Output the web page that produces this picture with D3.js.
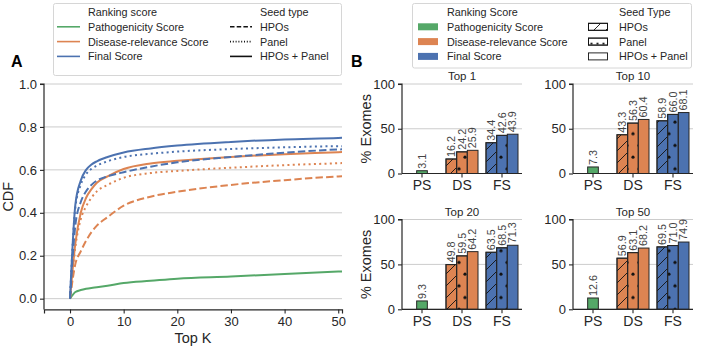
<!DOCTYPE html>
<html><head><meta charset="utf-8">
<script src="https://cdn.jsdelivr.net/npm/d3@7"></script>
<style>body{margin:0;background:#fff}svg{display:block;font-family:"Liberation Sans",Arial,sans-serif}</style>
</head><body><svg id="c" width="704" height="348"></svg>
<script>
// ---------- data ----------
const rankScores = ["Pathogenicity Score", "Disease-relevance Score", "Final Score"];
const seedTypes = ["HPOs", "Panel", "HPOs + Panel"];
const colors = ["#55a868", "#dd8452", "#4c72b0"];
// Panel A: CDF vs Top K
const kValues = [0, 1, 2, 3, 4, 5, 7, 10, 15, 20, 30, 40, 50, 51];
const psCdf = [0, 0.031, 0.040, 0.046, 0.050, 0.053, 0.060, 0.073, 0.083, 0.093, 0.103, 0.115, 0.126, 0.127];
const dsHpoCdf = [0, 0.162, 0.22, 0.27, 0.31, 0.34, 0.38, 0.433, 0.475, 0.498, 0.53, 0.552, 0.569, 0.570];
const dsPanelCdf = [0, 0.242, 0.37, 0.43, 0.47, 0.50, 0.53, 0.563, 0.585, 0.595, 0.61, 0.622, 0.631, 0.632];
const dsBothCdf = [0, 0.259, 0.40, 0.47, 0.51, 0.54, 0.57, 0.604, 0.63, 0.642, 0.66, 0.673, 0.682, 0.683];
const fsHpoCdf = [0, 0.344, 0.45, 0.50, 0.53, 0.55, 0.57, 0.589, 0.615, 0.635, 0.66, 0.68, 0.695, 0.696];
const fsPanelCdf = [0, 0.426, 0.53, 0.58, 0.605, 0.62, 0.64, 0.66, 0.675, 0.685, 0.697, 0.705, 0.71, 0.71];
const fsBothCdf = [0, 0.439, 0.55, 0.60, 0.625, 0.64, 0.66, 0.681, 0.70, 0.713, 0.73, 0.742, 0.749, 0.75];
const xTicksA = [0, 10, 20, 30, 40, 50];
const yTicksA = [0, 0.2, 0.4, 0.6, 0.8, 1.0];
// Panel B: % exomes at Top K
const topKs = ["Top 1", "Top 10", "Top 20", "Top 50"];
const categories = ["PS", "DS", "FS"];
const psVals = [3.1, 7.3, 9.3, 12.6];
const dsVals = [[16.2, 24.2, 25.9], [43.3, 56.3, 60.4], [49.8, 59.5, 64.2], [56.9, 63.1, 68.2]];
const fsVals = [[34.4, 42.6, 43.9], [58.9, 66.0, 68.1], [63.5, 68.5, 71.3], [69.5, 71.0, 74.9]];
const yTicksB = [0, 50, 100];

// ---------- setup ----------
const svg = d3.select("#c");
const TXT = "#262626";
const defs = svg.append("defs");
const rowY = [12, 26.8, 41.6, 56.4];
// hatch patterns
const ph = defs.append("pattern").attr("id", "hatch").attr("patternUnits", "userSpaceOnUse")
  .attr("width", 12).attr("height", 12);
ph.append("path").attr("d", "M-3,3 L3,-3 M0,12 L12,0 M9,15 L15,9").attr("stroke", "#111").attr("stroke-width", 0.9);
const pd = defs.append("pattern").attr("id", "dots").attr("patternUnits", "userSpaceOnUse")
  .attr("width", 12).attr("height", 23.4);
pd.append("circle").attr("cx", 3).attr("cy", 5).attr("r", 1.6).attr("fill", "#111");
pd.append("circle").attr("cx", 9).attr("cy", 16.7).attr("r", 1.6).attr("fill", "#111");
const pdl = defs.append("pattern").attr("id", "dotsLeg").attr("patternUnits", "userSpaceOnUse")
  .attr("width", 6).attr("height", 20).attr("x", 588.5).attr("y", rowY[2] - 3.5);
pdl.append("circle").attr("cx", 3).attr("cy", 5.6).attr("r", 1.1).attr("fill", "#111");
const fills = ["url(#hatch)", "url(#dots)", null];
const legFills = ["url(#hatch)", "url(#dotsLeg)", null];
const dashes = ["7.4,3.2", "2,3.3", null];

// ---------- Panel A ----------
const xA = d3.scaleLinear().domain([-4.85, 50.7]).range([44, 342]);
const yA = d3.scaleLinear().domain([-0.05, 1.0]).range([309.4, 84]);
defs.append("clipPath").attr("id", "clipA").append("rect").attr("x", 44).attr("y", 70).attr("width", 298).attr("height", 240);
const gA = svg.append("g");
gA.selectAll("line.grid").data(yTicksA).join("line")
  .attr("x1", 44).attr("x2", 342).attr("y1", d => yA(d)).attr("y2", d => yA(d))
  .attr("stroke", "#cccccc").attr("stroke-width", 1);
const axLeftA = gA.append("g").attr("transform", "translate(44,0)")
  .call(d3.axisLeft(yA).tickValues(yTicksA).tickFormat(d3.format(".1f")).tickSize(4).tickPadding(3));
const axBotA = gA.append("g").attr("transform", "translate(0,309.4)")
  .call(d3.axisBottom(xA).tickValues(xTicksA).tickSize(4).tickPadding(3));
[axLeftA, axBotA].forEach(a => {
  a.select(".domain").attr("stroke", TXT).attr("stroke-width", 1.2);
  a.selectAll(".tick line").attr("stroke", TXT).attr("stroke-width", 1.1);
  a.selectAll("text").attr("fill", TXT).attr("font-size", 13).attr("font-family", "Liberation Sans, Arial, sans-serif");
});
axLeftA.select(".domain").attr("d", `M-4,${yA(1)}H0V${yA(-0.05)}`);
const curves = [
  [psCdf, 0, 2], [dsHpoCdf, 1, 0], [dsPanelCdf, 1, 1], [dsBothCdf, 1, 2],
  [fsHpoCdf, 2, 0], [fsPanelCdf, 2, 1], [fsBothCdf, 2, 2]
];
const line = d3.line().x((d, i) => xA(kValues[i])).y(d => yA(d)).curve(d3.curveMonotoneX);
const gl = gA.append("g").attr("clip-path", "url(#clipA)");
curves.forEach(([vals, ci, si]) => {
  gl.append("path").attr("d", line(vals)).attr("fill", "none")
    .attr("stroke", colors[ci]).attr("stroke-width", 2)
    .attr("stroke-dasharray", dashes[si]);
});
gA.append("text").attr("x", 193).attr("y", 343).attr("text-anchor", "middle")
  .attr("font-size", 14.5).attr("fill", TXT).text("Top K");
gA.append("text").attr("transform", `translate(8,${yA(0.475)}) rotate(-90)`).attr("text-anchor", "middle")
  .attr("dy", "0.35em").attr("font-size", 14.5).attr("fill", TXT).text("CDF");
svg.append("text").attr("x", 11).attr("y", 67).attr("font-size", 16).attr("font-weight", "bold").attr("fill", "#000").text("A");
svg.append("text").attr("x", 351).attr("y", 67).attr("font-size", 16).attr("font-weight", "bold").attr("fill", "#000").text("B");

// legend A
const lgA = svg.append("g");
lgA.append("rect").attr("x", 53.5).attr("y", 3.5).attr("width", 288).attr("height", 72).attr("rx", 2)
  .attr("fill", "#fff").attr("stroke", "#d6d6d6");
lgA.append("text").attr("x", 88).attr("y", rowY[0] + 4).attr("font-size", 10.8).attr("fill", TXT).text("Ranking score");
rankScores.forEach((r, i) => {
  lgA.append("line").attr("x1", 57).attr("x2", 80).attr("y1", rowY[i + 1]).attr("y2", rowY[i + 1])
    .attr("stroke", colors[i]).attr("stroke-width", 1.6);
  lgA.append("text").attr("x", 88).attr("y", rowY[i + 1] + 4).attr("font-size", 10.8).attr("fill", TXT).text(r);
});
lgA.append("text").attr("x", 260).attr("y", rowY[0] + 4).attr("font-size", 10.8).attr("fill", TXT).text("Seed type");
seedTypes.forEach((s, i) => {
  lgA.append("line").attr("x1", 230).attr("x2", 252).attr("y1", rowY[i + 1]).attr("y2", rowY[i + 1])
    .attr("stroke", "#111").attr("stroke-width", 1.6).attr("stroke-dasharray", i === 1 ? "1,1.8" : (i === 0 ? "4.5,2.2" : null));
  lgA.append("text").attr("x", 260).attr("y", rowY[i + 1] + 4).attr("font-size", 10.8).attr("fill", TXT).text(s);
});

// legend B
const lgB = svg.append("g");
lgB.append("rect").attr("x", 412.5).attr("y", 3.5).attr("width", 279).attr("height", 64.5).attr("rx", 2)
  .attr("fill", "#fff").attr("stroke", "#d6d6d6");
lgB.append("text").attr("x", 447).attr("y", rowY[0] + 4).attr("font-size", 10.8).attr("fill", TXT).text("Ranking Score");
rankScores.forEach((r, i) => {
  lgB.append("rect").attr("x", 418).attr("y", rowY[i + 1] - 3.5).attr("width", 20).attr("height", 7).attr("fill", colors[i]);
  lgB.append("text").attr("x", 447).attr("y", rowY[i + 1] + 4).attr("font-size", 10.8).attr("fill", TXT).text(r);
});
lgB.append("text").attr("x", 619).attr("y", rowY[0] + 4).attr("font-size", 10.8).attr("fill", TXT).text("Seed Type");
seedTypes.forEach((s, i) => {
  lgB.append("rect").attr("x", 588.5).attr("y", rowY[i + 1] - 3.5).attr("width", 19).attr("height", 7)
    .attr("fill", "#fff").attr("stroke", "#111").attr("stroke-width", 0.9);
  if (legFills[i]) lgB.append("rect").attr("x", 588.5).attr("y", rowY[i + 1] - 3.5).attr("width", 19).attr("height", 7)
    .attr("fill", legFills[i]).attr("stroke", "#111").attr("stroke-width", 0.9);
  lgB.append("text").attr("x", 619).attr("y", rowY[i + 1] + 4).attr("font-size", 10.8).attr("fill", TXT).text(s);
});

// ---------- Panel B ----------
const panels = [
  { left: 402, top: 84, bottom: 173.5 },
  { left: 573, top: 84, bottom: 173.5 },
  { left: 402, top: 219.5, bottom: 309.3 },
  { left: 573, top: 219.5, bottom: 309.3 }
];
panels.forEach((p, pi) => {
  const g = svg.append("g");
  const x = d3.scaleBand().domain(categories).range([p.left, p.left + 120]).padding(0);
  const y = d3.scaleLinear().domain([0, 100]).range([p.bottom, p.top]);
  const inner = d3.scaleBand().domain(d3.range(3)).range([0, x.bandwidth() * 0.8]).padding(0);
  const off = x.bandwidth() * 0.1;
  g.selectAll("line.grid").data(yTicksB).join("line")
    .attr("x1", p.left).attr("x2", p.left + 120).attr("y1", d => y(d)).attr("y2", d => y(d))
    .attr("stroke", "#cccccc").attr("stroke-width", 1);
  const bars = [];
  bars.push({ cat: "PS", i: 1, v: psVals[pi], c: 0, s: 2 });
  dsVals[pi].forEach((v, i) => bars.push({ cat: "DS", i, v, c: 1, s: i }));
  fsVals[pi].forEach((v, i) => bars.push({ cat: "FS", i, v, c: 2, s: i }));
  bars.forEach(b => {
    const bx = x(b.cat) + off + inner(b.i), bw = inner.bandwidth();
    g.append("rect").attr("x", bx).attr("y", y(b.v)).attr("width", bw).attr("height", y(0) - y(b.v))
      .attr("fill", colors[b.c]).attr("stroke", "#262626").attr("stroke-width", 1);
    if (fills[b.s]) g.append("rect").attr("x", bx).attr("y", y(b.v)).attr("width", bw).attr("height", y(0) - y(b.v))
      .attr("fill", fills[b.s]).attr("stroke", "#262626").attr("stroke-width", 1);
    g.append("text").attr("transform", `translate(${bx + bw / 2 + 3.8},${y(b.v) - 2}) rotate(-90)`)
      .attr("font-size", 10.8).attr("fill", "#444").text(b.v.toFixed(1));
  });
  const ax = g.append("g").attr("transform", `translate(${p.left},0)`)
    .call(d3.axisLeft(y).tickValues(yTicksB).tickSize(4).tickPadding(3));
  const bx = g.append("g").attr("transform", `translate(0,${p.bottom})`)
    .call(d3.axisBottom(x).tickSize(4).tickPadding(3));
  [ax, bx].forEach(a => {
    a.select(".domain").attr("stroke", TXT).attr("stroke-width", 1.2);
    a.selectAll(".tick line").attr("stroke", TXT).attr("stroke-width", 1.1);
    a.selectAll("text").attr("fill", TXT).attr("font-size", 13).attr("font-family", "Liberation Sans, Arial, sans-serif");
  });
  ax.select(".domain").attr("d", `M-4,${p.top}H0V${p.bottom}`);
  bx.select(".domain").attr("d", `M${p.left},0H${p.left + 120}`);
  bx.selectAll("text").attr("font-size", 14);
  g.append("text").attr("x", p.left + 60).attr("y", p.top - 4).attr("text-anchor", "middle")
    .attr("font-size", 11.5).attr("fill", TXT).text(topKs[pi]);
  if (pi % 2 === 0) g.append("text").attr("transform", `translate(366,${(p.top + p.bottom) / 2}) rotate(-90)`)
    .attr("text-anchor", "middle").attr("dy", "0.35em").attr("font-size", 14.5).attr("fill", TXT).text("% Exomes");
});
</script></body></html>
